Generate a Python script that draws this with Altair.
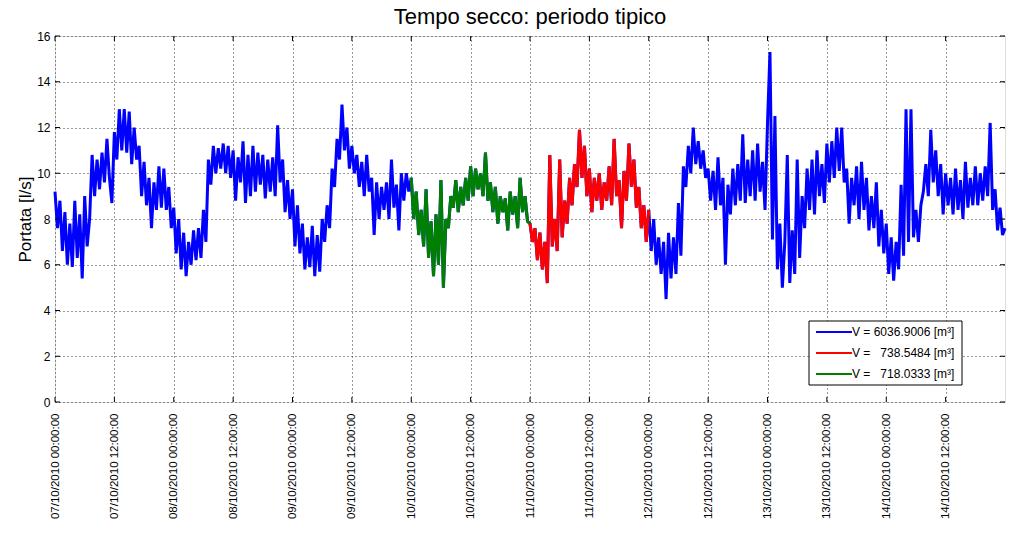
import altair as alt
import pandas as pd

# Portata [l/s], one value every 30 minutes
flow_0710 = [9.2, 7.6, 8.8, 6.6, 8.3, 6.0, 7.8, 5.9, 8.8, 6.3, 8.2, 5.4, 9.0, 6.8, 8.0, 10.8,
             9.0, 10.6, 9.3, 10.9, 9.6, 11.5, 9.8, 8.7, 11.8, 10.6, 12.8, 11.0, 12.8, 10.9, 12.7, 10.4,
             12.0, 10.6, 11.2, 9.0, 10.5, 8.6, 9.8, 7.6, 9.6, 8.4, 10.3, 8.5, 10.2, 8.4, 9.4, 7.6]
flow_0810 = [8.5, 6.5, 8.0, 5.8, 7.4, 5.5, 7.0, 6.0, 7.5, 6.2, 7.6, 6.3, 8.4, 7.0, 10.6, 9.5,
             11.2, 10.0, 11.1, 10.2, 11.3, 10.0, 11.2, 9.8, 11.0, 8.8, 10.7, 9.6, 11.4, 8.7, 10.8, 9.0,
             11.2, 9.2, 10.9, 9.5, 10.8, 8.9, 10.6, 9.2, 10.7, 9.0, 12.1, 9.6, 10.6, 8.3, 9.7, 8.0]
flow_0910 = [9.3, 6.8, 8.6, 6.5, 7.8, 5.8, 7.2, 5.9, 7.7, 5.5, 7.3, 5.7, 8.0, 7.0, 8.6, 7.6,
             10.2, 9.4, 11.5, 10.6, 13.0, 11.0, 12.0, 10.2, 11.2, 10.0, 10.8, 9.4, 10.5, 9.0, 10.8, 9.2,
             9.8, 7.3, 9.6, 8.0, 9.4, 8.4, 9.6, 8.0, 10.6, 8.5, 9.5, 7.5, 10.0, 8.8, 10.0, 9.2]
flow_1010 = [9.8, 8.0, 9.2, 7.3, 8.4, 6.8, 9.3, 6.3, 7.9, 5.5, 8.2, 6.0, 9.7, 5.0, 8.0, 7.6,
             9.0, 8.5, 9.7, 8.3, 9.4, 8.6, 9.8, 8.8, 10.3, 9.0, 10.2, 9.3, 10.0, 9.0, 10.9, 8.8,
             9.6, 8.3, 9.4, 7.8, 9.0, 8.3, 8.9, 7.5, 9.2, 8.2, 9.0, 7.6, 9.8, 8.3, 9.0, 7.9]
flow_1110 = [7.8, 7.0, 7.6, 6.2, 7.4, 5.8, 7.0, 5.2, 10.8, 6.8, 8.0, 6.6, 10.6, 7.2, 8.8, 7.8,
             9.8, 8.6, 10.4, 9.4, 11.9, 9.8, 11.2, 9.0, 10.2, 8.3, 9.8, 8.8, 10.0, 8.4, 9.6, 8.8,
             10.3, 8.6, 11.5, 9.0, 9.7, 7.6, 10.1, 8.8, 11.3, 9.4, 10.6, 8.5, 9.4, 7.6, 8.6, 7.0]
flow_1210 = [8.4, 6.6, 8.0, 6.0, 7.2, 5.6, 7.0, 4.5, 7.4, 5.4, 7.2, 5.6, 8.7, 6.4, 10.3, 9.4,
             11.2, 10.0, 12.0, 10.4, 11.4, 10.2, 11.0, 9.8, 10.2, 8.8, 10.1, 8.4, 10.7, 8.6, 9.8, 6.0,
             9.5, 8.2, 10.2, 8.6, 10.4, 8.8, 11.7, 8.7, 10.6, 9.0, 11.0, 8.8, 11.3, 9.2, 10.5, 8.4]
flow_1310 = [12.2, 15.3, 7.1, 12.5, 5.8, 7.8, 5.0, 7.0, 10.8, 5.2, 7.5, 5.6, 10.6, 6.3, 9.0, 7.6,
             10.2, 8.4, 10.6, 8.2, 11.0, 9.0, 10.4, 8.7, 11.3, 9.6, 11.4, 9.8, 12.0, 10.1, 12.0, 9.6,
             10.2, 7.8, 9.8, 8.6, 10.3, 8.0, 10.5, 8.4, 9.8, 7.5, 9.0, 7.6, 9.6, 6.8, 8.4, 6.5]
flow_1410 = [7.8, 5.6, 7.2, 5.3, 7.0, 5.8, 9.5, 6.4, 12.8, 7.0, 12.8, 7.2, 8.4, 7.0, 8.6, 9.2,
             10.4, 9.0, 11.9, 9.6, 11.0, 9.0, 10.4, 8.2, 10.0, 8.6, 9.8, 8.2, 10.2, 8.4, 9.7, 8.0,
             10.5, 8.5, 9.8, 8.6, 10.3, 8.6, 10.0, 8.8, 10.3, 9.0, 12.2, 8.4, 9.3, 7.5, 8.5, 7.3]
flow_1510 = [7.6]

series_labels = ["V = 6036.9006 [m\u00b3]", "V = \u2007738.5484 [m\u00b3]", "V = \u2007718.0333 [m\u00b3]"]
series_colors = ["#0000ff", "#ff0000", "#008000"]
green_period = ["2010-10-10 00:00", "2010-10-11 00:00"]
red_period = ["2010-10-11 00:00", "2010-10-12 00:00"]
x_start, x_end = "2010-10-07 00:00", "2010-10-15 00:00"
y_ticks = [0, 2, 4, 6, 8, 10, 12, 14, 16]

values = (flow_0710 + flow_0810 + flow_0910 + flow_1010 + flow_1110 +
          flow_1210 + flow_1310 + flow_1410 + flow_1510)
times = pd.date_range(x_start, periods=len(values), freq="30min")
df = pd.DataFrame({"t": times, "q": values})

blue = df.assign(series=series_labels[0])
red = df[(df.t >= red_period[0]) & (df.t <= red_period[1])].assign(series=series_labels[1])
green = df[(df.t >= green_period[0]) & (df.t <= green_period[1])].assign(series=series_labels[2])

tick_times = pd.date_range(x_start, x_end, freq="12h")[:-1]
x_tick_values = [alt.DateTime(year=t.year, month=t.month, date=t.day, hours=t.hour) for t in tick_times]
xt = pd.DataFrame({"t": tick_times})
yt = pd.DataFrame({"q": y_ticks})

font = "Liberation Sans"
W, H = 950, 366
x_scale = alt.Scale(domain=[alt.DateTime(year=2010, month=10, date=7), alt.DateTime(year=2010, month=10, date=15)])
y_scale = alt.Scale(domain=[0, 16], nice=False)

color = alt.Color("series:N", scale=alt.Scale(domain=series_labels, range=series_colors), legend=None)

x_enc = alt.X("t:T", scale=x_scale,
              axis=alt.Axis(title=None, values=x_tick_values, format="%d/%m/%Y %H:%M:%S",
                            labelAngle=270, labelAlign="right", labelBaseline="middle",
                            labelFontSize=11.5, labelFont=font, labelColor="black", labelPadding=11,
                            ticks=False, domain=False, grid=True, gridDash=[1, 3],
                            gridColor="#333", gridWidth=1, labelOverlap=False))
y_enc = alt.Y("q:Q", scale=y_scale,
              axis=alt.Axis(title="Portata [l/s]", values=y_ticks, titleFontSize=17,
                            titleFont=font, titleFontWeight="normal", titleColor="black",
                            titlePadding=2, labelFontSize=12, labelFont=font, labelColor="black",
                            labelPadding=5, ticks=False, domain=False, grid=True,
                            gridDash=[1, 3], gridColor="#333", gridWidth=1))

lw = 3.0
line_style = dict(strokeWidth=lw, strokeJoin="miter", strokeMiterLimit=1.5)
base_line = alt.Chart(blue).mark_line(**line_style).encode(x=x_enc, y=y_enc, color=color)
green_line = alt.Chart(green).mark_line(**line_style).encode(x="t:T", y="q:Q", color=color)
red_line = alt.Chart(red).mark_line(**line_style).encode(x="t:T", y="q:Q", color=color)

# inward tick marks on all four sides (MATLAB style)
xb = alt.Chart(xt).mark_rule(color="black", strokeWidth=1).encode(
    x="t:T", y=alt.value(H), y2=alt.value(H - 5))
xtop = alt.Chart(xt).mark_rule(color="black", strokeWidth=1).encode(
    x="t:T", y=alt.value(0), y2=alt.value(5))
yl = alt.Chart(yt).mark_rule(color="black", strokeWidth=1).encode(
    y="q:Q", x=alt.value(0), x2=alt.value(5))
yr = alt.Chart(yt).mark_rule(color="black", strokeWidth=1).encode(
    y="q:Q", x=alt.value(W - 5), x2=alt.value(W))

# legend box drawn like MATLAB's
one = pd.DataFrame({"a": [0]})
lx0, ly0, lw_box, lh_box = 754, 285, 153, 64
legend_layers = [alt.Chart(one).mark_rect(fill="white", stroke="black", strokeWidth=1).encode(
    x=alt.value(lx0), x2=alt.value(lx0 + lw_box), y=alt.value(ly0), y2=alt.value(ly0 + lh_box))]
for i, (lab, col) in enumerate(zip(series_labels, series_colors)):
    yy = ly0 + 11 + 21 * i
    legend_layers.append(alt.Chart(one).mark_rule(color=col, strokeWidth=2).encode(
        x=alt.value(lx0 + 7), x2=alt.value(lx0 + 43), y=alt.value(yy)))
    legend_layers.append(alt.Chart(one).mark_text(
        align="left", baseline="middle", fontSize=12, font=font, color="black", text=lab).encode(
        x=alt.value(lx0 + 43), y=alt.value(yy)))

chart = alt.layer(base_line, green_line, red_line, xb, xtop, yl, yr, *legend_layers).properties(
    width=W, height=H,
    title=alt.TitleParams("Tempo secco: periodo tipico", fontSize=22, fontWeight="normal",
                          font=font, color="black", anchor="middle", offset=1),
    autosize=alt.AutoSizeParams(type="none"),
    padding={"left": 55, "top": 36, "right": 18, "bottom": 142},
).configure_view(stroke="black", strokeWidth=1).configure(background="white")

chart.save("out.html", embed_options={"renderer": "svg", "actions": False})
